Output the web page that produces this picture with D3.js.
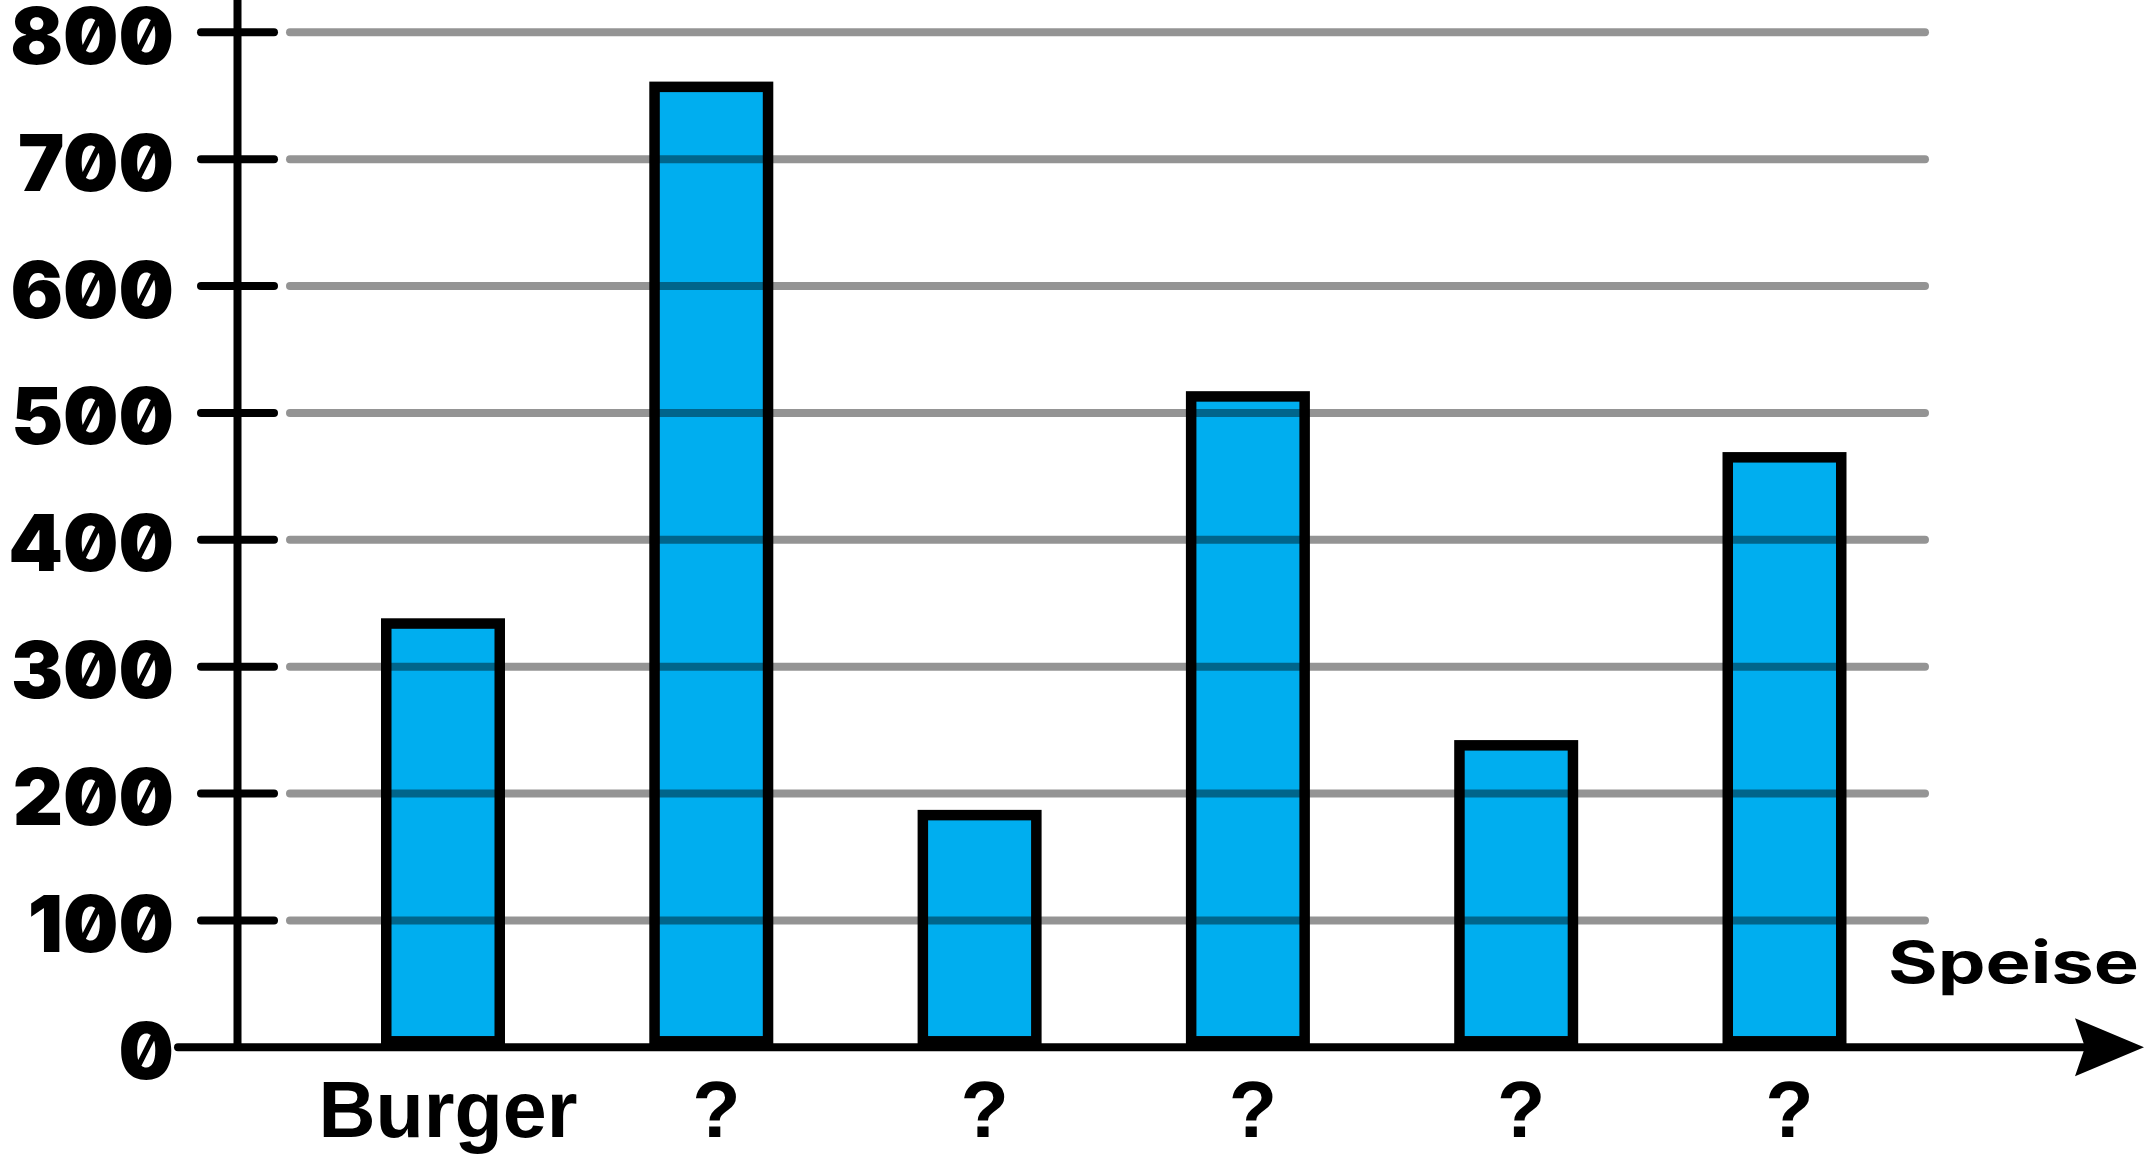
<!DOCTYPE html>
<html>
<head>
<meta charset="utf-8">
<script src="https://cdn.jsdelivr.net/npm/d3@7"></script>
<style>
  html, body { margin: 0; padding: 0; background: #fff; }
  svg { display: block; }
</style>
</head>
<body>
<svg id="chart" width="2149" height="1154"></svg>
<script>
const categories = ["Burger", "?", "?", "?", "?", "?"];
const values = [334, 757, 183, 513, 238, 465];
const yTicks = [0, 100, 200, 300, 400, 500, 600, 700, 800];
const xAxisTitle = "Speise";

const svg = d3.select("#chart");

const y = d3.scaleLinear().domain([0, 800]).range([1047.3, 32.3]);
const ids = categories.map((c, i) => i);
const x = d3.scaleBand().domain(ids).range([308.85, 1918.65])
  .paddingInner(0.577).paddingOuter(0.577 / 2);

const axisX = 237.5;
const barStroke = 10.5;
const numFont = "Inter, 'Liberation Sans', sans-serif";
const labelFont = "'Liberation Sans', Arial, sans-serif";

// Bars
svg.append("g").selectAll("rect").data(values).join("rect")
  .attr("x", (d, i) => x(i))
  .attr("width", x.bandwidth())
  .attr("y", d => y(d))
  .attr("height", d => y(0) - 6 - y(d))
  .attr("fill", "#00aeef")
  .attr("stroke", "#000")
  .attr("stroke-width", barStroke);

// Gridlines (semi-transparent, drawn over bars)
svg.append("g").selectAll("line").data(yTicks.filter(t => t > 0)).join("line")
  .attr("x1", 290).attr("x2", 1925)
  .attr("y1", d => y(d)).attr("y2", d => y(d))
  .attr("stroke", "#000").attr("stroke-opacity", 0.42)
  .attr("stroke-width", 8).attr("stroke-linecap", "round");

// Y axis line
svg.append("line")
  .attr("x1", axisX).attr("x2", axisX)
  .attr("y1", y(0)).attr("y2", -10)
  .attr("stroke", "#000").attr("stroke-width", 8);

// Tick marks
svg.append("g").selectAll("line").data(yTicks.filter(t => t > 0)).join("line")
  .attr("x1", 201).attr("x2", 274)
  .attr("y1", d => y(d)).attr("y2", d => y(d))
  .attr("stroke", "#000").attr("stroke-width", 8).attr("stroke-linecap", "round");

// X axis line + arrowhead
svg.append("line")
  .attr("x1", 178).attr("x2", 2090)
  .attr("y1", y(0)).attr("y2", y(0))
  .attr("stroke", "#000").attr("stroke-width", 8).attr("stroke-linecap", "round");
const ay = y(0);
svg.append("path")
  .attr("d", `M2144,${ay} L2075,${ay - 29} L2085,${ay} L2075,${ay + 29} Z`)
  .attr("fill", "#000");

// Y tick labels
svg.append("g").selectAll("text").data(yTicks).join("text")
  .attr("x", 174)
  .attr("y", d => y(d) + 31.5)
  .attr("text-anchor", "end")
  .style("font-family", numFont)
  .style("font-weight", 900)
  .style("font-size", "78px")
  .style("font-feature-settings", "'zero' 1")
  .attr("fill", "#000")
  .text(d => d);

// Category labels
svg.append("g").selectAll("text").data(categories).join("text")
  .attr("x", (d, i) => x(i) + x.bandwidth() / 2 + 5)
  .attr("y", 1137)
  .attr("text-anchor", "middle")
  .style("font-family", labelFont)
  .style("font-weight", 700)
  .style("font-size", "79px")
  .attr("fill", "#000")
  .text(d => d);

// Axis title
svg.append("text")
  .attr("x", 1888)
  .attr("y", 983)
  .attr("textLength", 251)
  .attr("lengthAdjust", "spacingAndGlyphs")
  .style("font-family", numFont)
  .style("font-weight", 700)
  .style("font-size", "58px")
  .attr("fill", "#000")
  .text(xAxisTitle);
</script>
</body>
</html>
